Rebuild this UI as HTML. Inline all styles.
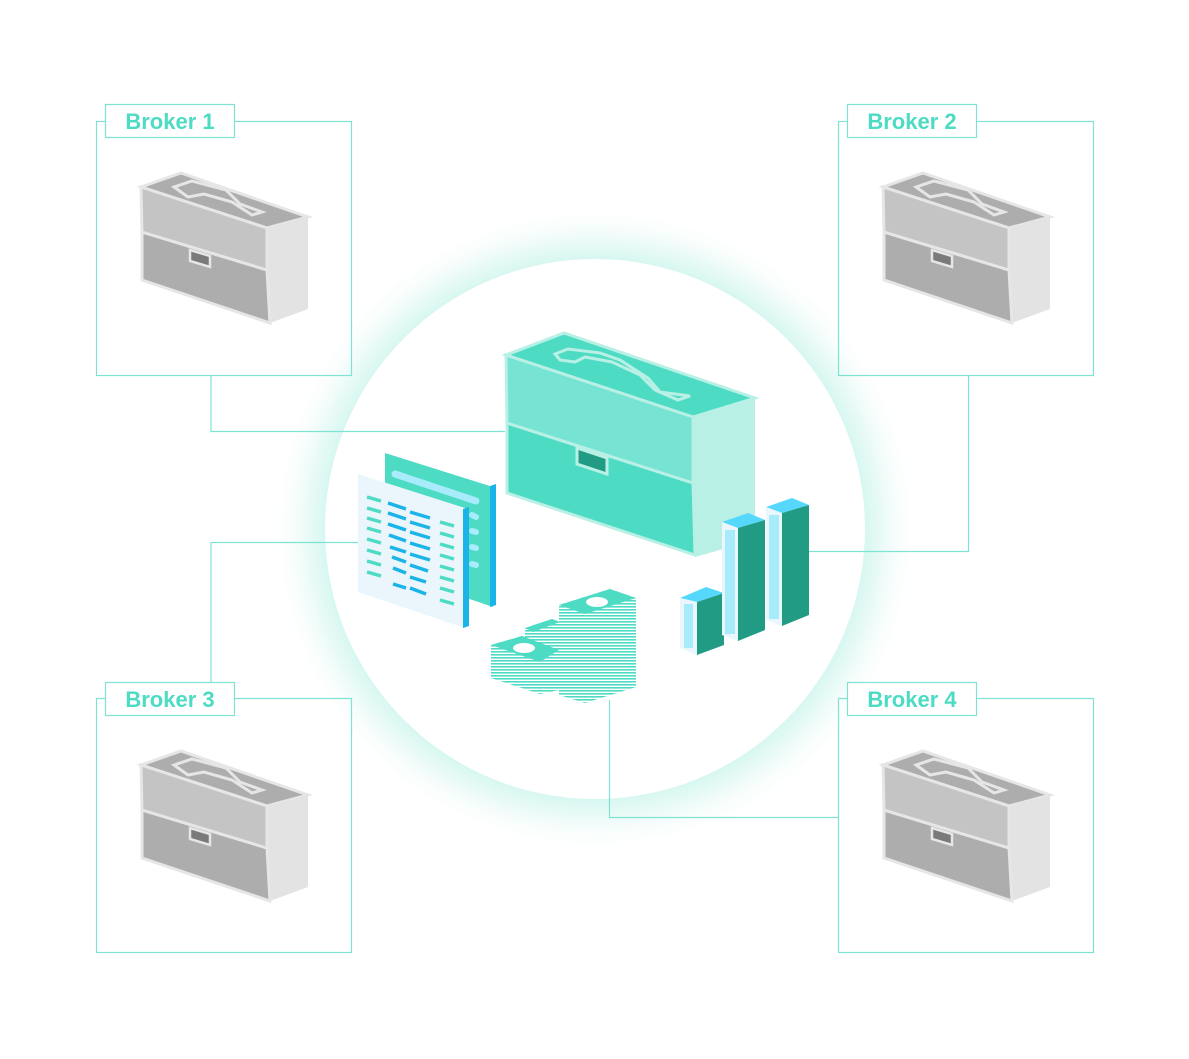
<!DOCTYPE html>
<html><head><meta charset="utf-8"><style>
html,body{margin:0;padding:0;background:#fff;width:1189px;height:1059px;overflow:hidden}
svg{display:block}
</style></head><body>
<svg width="1189" height="1059" viewBox="0 0 1189 1059" xmlns="http://www.w3.org/2000/svg">
<defs>
<radialGradient id="glow" cx="595" cy="529" r="325" gradientUnits="userSpaceOnUse">
<stop offset="0.82" stop-color="#d4f6ef"/>
<stop offset="0.88" stop-color="#e8faf6"/>
<stop offset="1" stop-color="#ffffff" stop-opacity="0"/>
</radialGradient>
<pattern id="stripe" width="4" height="3" patternUnits="userSpaceOnUse">
<rect width="4" height="3" fill="#fff"/><rect width="4" height="1.6" fill="#4ddbc4"/>
</pattern>
<g id="gbag">
<polygon points="141,187 181,173 308,217 267,228" fill="#adadad" stroke="#e6e6e6" stroke-width="3"/>
<polygon points="267,228 308,217 308,309 270,323" fill="#e3e3e3"/>
<polygon points="142,232 267,270 270,323 142,280" fill="#adadad" stroke="#e6e6e6" stroke-width="3"/>
<polygon points="141,187 267,228 267,270 142,232" fill="#c4c4c4" stroke="#e6e6e6" stroke-width="3"/>
<path d="M174,187 L192,181 L226,190 L240,204 L262,212 L252,215 L232,202 L204,194 L188,197 Z" fill="none" stroke="#e6e6e6" stroke-width="3"/>
<polygon points="190,250 210,256 210,267 190,261" fill="#7a7a7a" stroke="#e6e6e6" stroke-width="2.5"/>
</g>
</defs>
<circle cx="595" cy="529" r="325" fill="url(#glow)"/>
<circle cx="595" cy="529" r="270" fill="#fff"/>

<g fill="none" stroke="#7fe3d3" stroke-width="1.2">
<rect x="96.5" y="121.5" width="255" height="254"/>
<rect x="838.5" y="121.5" width="255" height="254"/>
<rect x="96.5" y="698.5" width="255" height="254"/>
<rect x="838.5" y="698.5" width="255" height="254"/>
<polyline points="211,375 211,431.5 505,431.5"/>
<polyline points="968.5,375 968.5,551.5 808,551.5"/>
<polyline points="211,682 211,542.5 358,542.5"/>
<polyline points="838,817.5 609.5,817.5 609.5,700"/>
</g>
<g fill="#fff" stroke="#7fe3d3" stroke-width="1.2">
<rect x="105.5" y="104.5" width="129" height="33"/>
<rect x="847.5" y="104.5" width="129" height="33"/>
<rect x="105.5" y="682.5" width="129" height="33"/>
<rect x="847.5" y="682.5" width="129" height="33"/>
</g>
<g font-family="Liberation Sans, sans-serif" font-weight="bold" font-size="22" fill="#4ddbc4" text-anchor="middle">
<text x="170" y="129">Broker 1</text>
<text x="912" y="129">Broker 2</text>
<text x="170" y="707">Broker 3</text>
<text x="912" y="707">Broker 4</text>
</g>

<use href="#gbag"/>
<use href="#gbag" transform="translate(742,0)"/>
<use href="#gbag" transform="translate(0,578)"/>
<use href="#gbag" transform="translate(742,578)"/>

<polygon points="506,355 564,333 755,398 693,417" fill="#4ddbc4" stroke="#b8f0e6" stroke-width="3"/>
<polygon points="693,417 755,398 755,540 695,557" fill="#b8f0e6"/>
<polygon points="507,423 693,483 695,555 507,493" fill="#4ddbc4" stroke="#b8f0e6" stroke-width="3"/>
<polygon points="506,355 693,417 693,483 507,423" fill="#77e3d3" stroke="#b8f0e6" stroke-width="3"/>
<path d="M555,354 L568,349 L600,353 L620,360 L648,378 L660,392 L690,396 L678,400 L655,390 L640,375 L612,362 L585,357 L575,362 L560,360 Z" fill="none" stroke="#b8f0e6" stroke-width="3"/>
<polygon points="577,448 607,458 607,474 577,464" fill="#229b85" stroke="#b8f0e6" stroke-width="3"/>

<polygon points="385,453 493,487 493,607 385,570" fill="#4ddbc4"/>
<polygon points="490,486 496,484 496,605 490,607" fill="#1ab4e8"/>
<line x1="395" y1="474" x2="476" y2="501" stroke="#a8ecfb" stroke-width="7" stroke-linecap="round"/>
<g stroke="#a8ecfb" stroke-width="6" stroke-linecap="round">
<line x1="472" y1="515" x2="476" y2="517"/><line x1="472" y1="531" x2="476" y2="532"/><line x1="472" y1="547" x2="476" y2="548"/><line x1="472" y1="564" x2="476" y2="565"/>
</g>
<polygon points="358,474 465,508 465,628 358,592" fill="#eaf6fb"/>
<polygon points="463,509 469,507 469,626 463,628" fill="#1ab4e8"/>
<g stroke="#4ddbc4" stroke-width="3.5">
<line x1="367" y1="497" x2="381" y2="501"/><line x1="367" y1="508" x2="381" y2="512"/><line x1="367" y1="518" x2="381" y2="522"/><line x1="367" y1="528" x2="381" y2="532"/><line x1="367" y1="539" x2="381" y2="543"/><line x1="367" y1="550" x2="381" y2="554"/><line x1="367" y1="561" x2="381" y2="565"/><line x1="367" y1="572" x2="381" y2="576"/>
<line x1="440" y1="522" x2="454" y2="526"/><line x1="440" y1="533" x2="454" y2="537"/><line x1="440" y1="544" x2="454" y2="548"/><line x1="440" y1="555" x2="454" y2="559"/><line x1="440" y1="566" x2="454" y2="570"/><line x1="440" y1="577" x2="454" y2="581"/><line x1="440" y1="588" x2="454" y2="592"/><line x1="440" y1="600" x2="454" y2="604"/>
</g>
<g stroke="#1ab4e8" stroke-width="3.5">
<line x1="388" y1="503" x2="406" y2="509"/><line x1="388" y1="513" x2="406" y2="519"/><line x1="388" y1="524" x2="406" y2="530"/><line x1="389" y1="535" x2="406" y2="541"/><line x1="390" y1="547" x2="406" y2="552"/><line x1="392" y1="557" x2="406" y2="562"/><line x1="393" y1="568" x2="406" y2="573"/><line x1="393" y1="584" x2="406" y2="588"/>
<line x1="410" y1="512" x2="430" y2="518"/><line x1="410" y1="522" x2="430" y2="528"/><line x1="410" y1="532" x2="430" y2="538"/><line x1="410" y1="543" x2="430" y2="549"/><line x1="410" y1="554" x2="430" y2="560"/><line x1="410" y1="565" x2="428" y2="571"/><line x1="410" y1="577" x2="426" y2="582"/><line x1="410" y1="588" x2="426" y2="594"/>
</g>

<polygon points="525,628 552,619 560,622 560,660 525,660" fill="url(#stripe)"/>
<polygon points="525,628 552,619 560,622 533,632" fill="#4ddbc4"/>
<polygon points="491,645 522,636 559,650 559,690 540,694 491,678" fill="url(#stripe)"/>
<polygon points="491,645 522,636 559,650 540,662" fill="#4ddbc4"/>
<ellipse cx="524" cy="648" rx="11" ry="5" fill="#fff"/>
<polygon points="559,605 610,589 636,598 636,687 585,703 559,695" fill="url(#stripe)"/>
<polygon points="559,605 610,589 636,598 585,614" fill="#4ddbc4"/>
<ellipse cx="597" cy="602" rx="11" ry="5" fill="#fff"/>

<polygon points="680,598 706,587 724,593 697,602" fill="#55d8fb"/>
<polygon points="680,598 697,602 697,655 680,648" fill="#eaf6fb"/>
<rect x="684" y="604" width="9" height="44" fill="#a8ecfb"/>
<polygon points="697,602 724,593 724,645 697,655" fill="#229b85"/>

<polygon points="722,522 748,513 765,520 738,528" fill="#55d8fb"/>
<polygon points="722,522 738,528 738,641 722,635" fill="#eaf6fb"/>
<rect x="725" y="530" width="10" height="104" fill="#a8ecfb"/>
<polygon points="738,528 765,520 765,630 738,641" fill="#229b85"/>

<polygon points="766,507 792,498 809,505 782,513" fill="#55d8fb"/>
<polygon points="766,507 782,513 782,626 766,620" fill="#eaf6fb"/>
<rect x="769" y="515" width="10" height="104" fill="#a8ecfb"/>
<polygon points="782,513 809,505 809,615 782,626" fill="#229b85"/>
</svg>
</body></html>
